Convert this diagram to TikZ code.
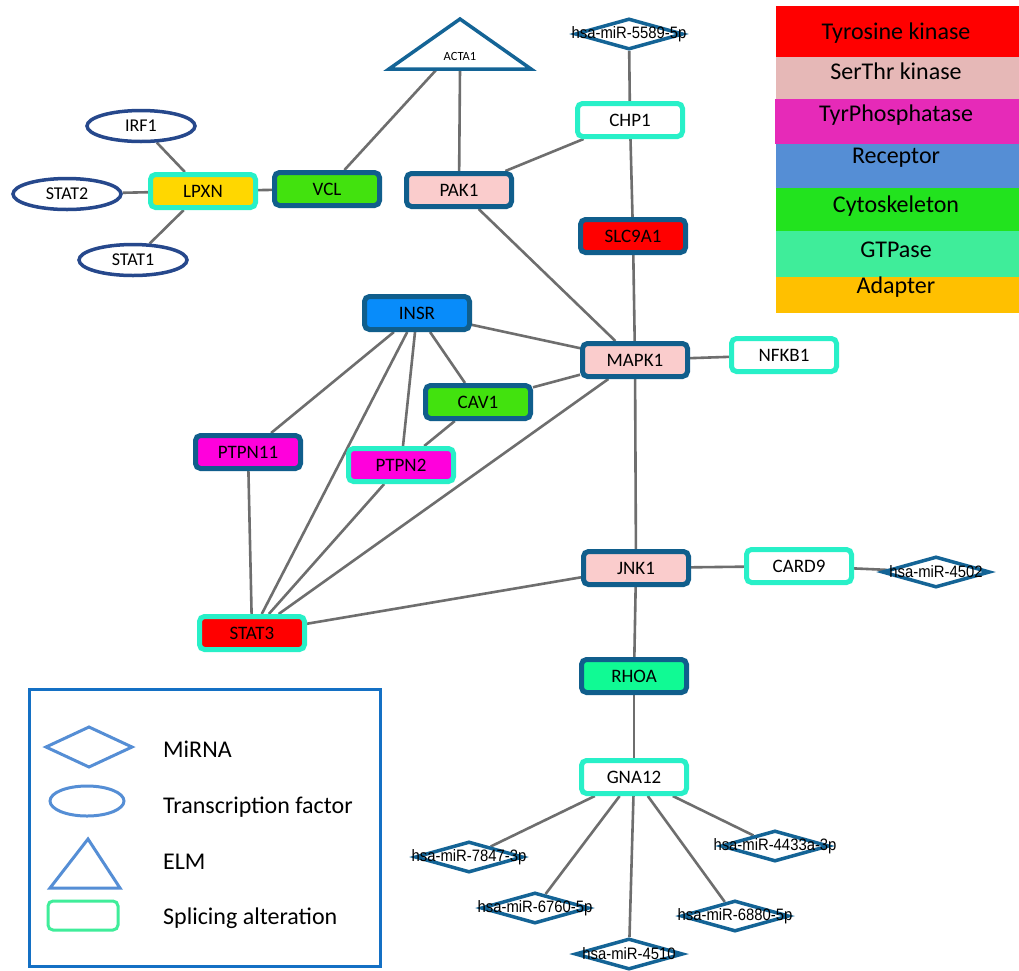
\documentclass[tikz,border=0pt]{standalone}
\usepackage{fontspec}
\setmainfont{Carlito}
\newfontfamily\arialf{Liberation Sans}
\usetikzlibrary{shapes.geometric}
\pgfdeclarelayer{bg}
\pgfsetlayers{bg,main}
\definecolor{bordB}{RGB}{16,94,140}
\definecolor{turq}{RGB}{40,240,200}
\definecolor{pinkN}{RGB}{250,204,204}
\definecolor{redN}{RGB}{255,0,0}
\definecolor{greenN}{RGB}{66,226,14}
\definecolor{blueN}{RGB}{8,140,250}
\definecolor{magN}{RGB}{255,0,220}
\definecolor{rhoaN}{RGB}{16,250,148}
\definecolor{yellowN}{RGB}{255,215,0}
\definecolor{ellB}{RGB}{38,72,140}
\definecolor{dmB}{RGB}{20,100,150}
\definecolor{edgeC}{RGB}{110,110,110}
\definecolor{lgTyr}{RGB}{255,0,0}
\definecolor{lgSer}{RGB}{230,184,183}
\definecolor{lgPho}{RGB}{230,42,184}
\definecolor{lgRec}{RGB}{85,142,213}
\definecolor{lgCyt}{RGB}{34,227,30}
\definecolor{lgGTP}{RGB}{63,237,154}
\definecolor{lgAda}{RGB}{255,192,0}
\definecolor{lgBox}{RGB}{20,112,196}
\definecolor{lgShape}{RGB}{85,142,213}
\tikzset{
  gene/.style={rectangle, rounded corners=5pt, line width=5pt, minimum width=105pt,
    minimum height=33pt, inner sep=0pt, font=\fontsize{19}{21}\selectfont},
  normb/.style={gene, draw=bordB},
  splice/.style={gene, draw=turq},
  tf/.style={ellipse, draw=ellB, line width=3.5pt, minimum width=108pt, minimum height=31pt,
    fill=white, inner sep=0pt, font=\fontsize{18}{20}\selectfont},
  mirna/.style={diamond, draw=dmB, line width=3.5pt, minimum width=108pt, minimum height=31pt,
    fill=white, inner sep=0pt, font=\arialf\fontsize{16.5}{18}\selectfont},
  conn/.style={draw=edgeC, line width=2.6pt},
  lgtext/.style={anchor=base, font=\fontsize{24}{26}\selectfont, inner sep=0pt},
  lgtext2/.style={anchor=base west, font=\fontsize{24}{26}\selectfont, inner sep=0pt},
  lgshape/.style={draw=lgShape, line width=3pt, line join=miter},
}
\newcommand{\mir}[1]{\makebox[0pt]{\scalebox{0.9}[1]{#1}}}
\begin{document}
\begin{tikzpicture}[x=1pt,y=-1pt]
\useasboundingbox (0,0) rectangle (1019,970);
\begin{pgfonlayer}{bg}
\fill[white] (0,0) rectangle (1019,970);
\end{pgfonlayer}

% ELM triangle
\draw[draw=dmB, line width=3.5pt, fill=white, line join=miter] (460,19) -- (531,69) -- (389,69) -- cycle;
\node[font=\fontsize{12.5}{13}\selectfont, inner sep=0pt] (acta1) at (460,56) {ACTA1};
\coordinate (actaL) at (437,69);
\coordinate (actaC) at (460,69);

% nodes
\node[mirna] (m5589) at (629,34) {\mir{hsa-miR-5589-5p}};
\node[splice, fill=white] (chp1) at (630,120) {CHP1};
\node[tf] (irf1) at (141,126) {IRF1};
\node[tf] (stat2) at (67,194) {STAT2};
\node[tf] (stat1) at (133,260) {STAT1};
\node[splice, fill=yellowN] (lpxn) at (203,191) {LPXN};
\node[normb, fill=greenN] (vcl) at (327,189) {VCL};
\node[normb, fill=pinkN] (pak1) at (459,190) {PAK1};
\node[normb, fill=redN] (slc9a1) at (633,236) {SLC9A1};
\node[normb, fill=blueN] (insr) at (417,313) {INSR};
\node[normb, fill=pinkN] (mapk1) at (635,360) {MAPK1};
\node[splice, fill=white] (nfkb1) at (784,355) {NFKB1};
\node[normb, fill=greenN] (cav1) at (478,402) {CAV1};
\node[normb, fill=magN] (ptpn11) at (248,452) {PTPN11};
\node[splice, fill=magN] (ptpn2) at (401,465) {PTPN2};
\node[splice, fill=redN] (stat3) at (252,633) {STAT3};
\node[normb, fill=pinkN] (jnk1) at (636,568) {JNK1};
\node[splice, fill=white] (card9) at (799,566) {CARD9};
\node[mirna] (m4502) at (936,572) {\mir{hsa-miR-4502}};
\node[normb, fill=rhoaN] (rhoa) at (634,676) {RHOA};
\node[splice, fill=white] (gna12) at (634,777) {GNA12};
\node[mirna] (m7847) at (469,857) {\mir{hsa-miR-7847-3p}};
\node[mirna] (m6760) at (535,908) {\mir{hsa-miR-6760-5p}};
\node[mirna] (m4510) at (629,954) {\mir{hsa-miR-4510}};
\node[mirna] (m6880) at (735,916) {\mir{hsa-miR-6880-5p}};
\node[mirna] (m4433) at (775,846) {\mir{hsa-miR-4433a-3p}};

% connectors
\begin{pgfonlayer}{bg}
\draw[conn] (irf1) -- (lpxn);
\draw[conn] (stat2) -- (lpxn);
\draw[conn] (stat1) -- (lpxn);
\draw[conn] (lpxn) -- (vcl);
\draw[conn] (vcl) -- (actaL);
\draw[conn] (pak1) -- (actaC);
\draw[conn] (pak1) -- (chp1);
\draw[conn] (pak1) -- (mapk1);
\draw[conn] (m5589) -- (chp1);
\draw[conn] (chp1) -- (slc9a1);
\draw[conn] (slc9a1) -- (mapk1);
\draw[conn] (insr) -- (mapk1);
\draw[conn] (insr) -- (cav1);
\draw[conn] (insr) -- (ptpn11);
\draw[conn] (insr) -- (ptpn2);
\draw[conn] (insr) -- (stat3);
\draw[conn] (cav1) -- (mapk1);
\draw[conn] (cav1) -- (ptpn2);
\draw[conn] (mapk1) -- (stat3);
\draw[conn] (mapk1) -- (nfkb1);
\draw[conn] (mapk1) -- (jnk1);
\draw[conn] (ptpn11) -- (stat3);
\draw[conn] (ptpn2) -- (stat3);
\draw[conn] (jnk1) -- (stat3);
\draw[conn] (jnk1) -- (card9);
\draw[conn] (card9) -- (m4502);
\draw[conn] (jnk1) -- (rhoa);
\draw[conn] (rhoa) -- (gna12);
\draw[conn] (gna12) -- (m7847);
\draw[conn] (gna12) -- (m6760);
\draw[conn] (gna12) -- (m4510);
\draw[conn] (gna12) -- (m6880);
\draw[conn] (gna12) -- (m4433);
\end{pgfonlayer}

% colour legend
\fill[lgTyr] (776,6) rectangle (1019,57);
\fill[lgSer] (776,57) rectangle (1019,99);
\fill[lgPho] (775,99) rectangle (1019,144);
\fill[lgRec] (776,144) rectangle (1019,188);
\fill[lgCyt] (776,188) rectangle (1019,231);
\fill[lgGTP] (776,231) rectangle (1019,277);
\fill[lgAda] (776,277) rectangle (1019,313);
\node[lgtext] (lt1) at (896,39) {Tyrosine kinase};
\node[lgtext] (lt2) at (896,79) {SerThr kinase};
\node[lgtext] (lt3) at (896,121) {TyrPhosphatase};
\node[lgtext] (lt4) at (896,163) {Receptor};
\node[lgtext] (lt5) at (896,212) {Cytoskeleton};
\node[lgtext] (lt6) at (896,257) {GTPase};
\node[lgtext] (lt7) at (896,293) {Adapter};

% shape legend
\draw[draw=lgBox, line width=3pt] (29,689) rectangle (380,966);
\draw[lgshape] (46,747) -- (89,727) -- (132,747) -- (89,767) -- cycle;
\draw[lgshape] (87,801) ellipse [x radius=37pt, y radius=15pt];
\draw[lgshape] (88,839) -- (120,888) -- (50,888) -- cycle;
\draw[draw=lgGTP, line width=3pt, rounded corners=5pt] (48,901) rectangle (118,930);
\node[lgtext2] (l1) at (163,757) {MiRNA};
\node[lgtext2] (l2) at (163,813) {Transcription factor};
\node[lgtext2] (l3) at (163,869) {ELM};
\node[lgtext2] (l4) at (163,924) {Splicing alteration};
\end{tikzpicture}
\end{document}
